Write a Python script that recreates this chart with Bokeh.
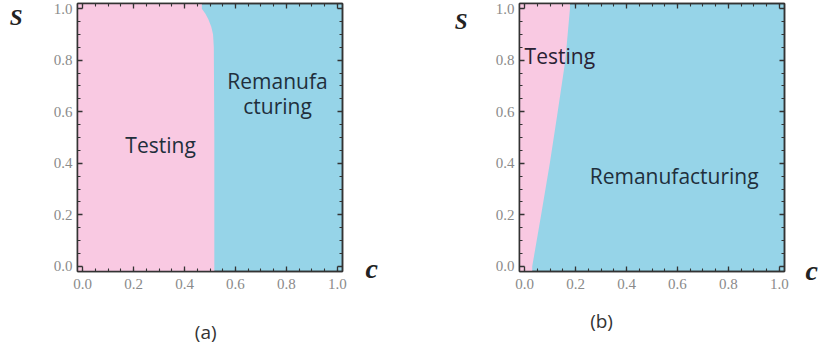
from bokeh.plotting import figure
from bokeh.layouts import row
from bokeh.models import (ColumnDataSource, LinearAxis, Range1d, FixedTicker,
                          SingleIntervalTicker, PrintfTickFormatter,
                          CustomLabelingPolicy)
from bokeh.core.properties import value
from bokeh.embed import file_html
from bokeh.resources import INLINE

# ---------------- data ----------------
# panel (a): boundary between Testing (left) and Remanufacturing (right)
a_s = [0.0, 0.5, 0.85, 0.9, 0.93, 0.96, 0.98, 1.0]
a_c = [0.517, 0.517, 0.515, 0.512, 0.505, 0.493, 0.482, 0.468]
# panel (b)
b_s = [0.0, 0.2, 0.4, 0.6, 0.8, 1.0]
b_c = [0.03, 0.065, 0.099, 0.13, 0.16, 0.178]

tick_step = 0.2
x_label = "c"
y_label = "S"
panel_names = ["(a)", "(b)"]

a_texts = ["Testing", "Remanufa", "cturing"]
a_text_c = [0.306, 0.765, 0.765]
a_text_s = [0.471, 0.721, 0.623]
b_texts = ["Testing", "Remanufacturing"]
b_text_c = [0.0, 0.587]
b_text_s = [0.816, 0.349]

PINK = "#f9c9e2"
BLUE = "#96d4e8"
FRAME = "#333333"
PAD = 0.02
H = 352


def label_axis(text, at, standoff, font, size, style, color):
    ax = LinearAxis(ticker=FixedTicker(ticks=[at], minor_ticks=[]),
                    formatter=PrintfTickFormatter(format=text))
    ax.axis_line_color = None
    ax.major_tick_line_color = None
    ax.minor_tick_line_color = None
    ax.major_tick_in = 0
    ax.major_tick_out = 0
    ax.major_label_standoff = standoff
    ax.major_label_text_font = font
    ax.major_label_text_font_size = size
    ax.major_label_text_font_style = style
    ax.major_label_text_color = color
    return ax


def make_panel(bs, bc, width, bl, br, bt, bb,
               s_at, s_off, c_at, c_off, name, name_at, name_off):
    p = figure(width=width, height=H, output_backend="svg",
               toolbar_location=None,
               x_range=Range1d(-PAD, 1 + PAD), y_range=Range1d(-PAD, 1 + PAD),
               min_border_left=bl, min_border_right=br,
               min_border_top=bt, min_border_bottom=bb,
               background_fill_color=BLUE, border_fill_color="white")
    p.xgrid.visible = False
    p.ygrid.visible = False
    p.outline_line_color = FRAME
    p.outline_line_width = 1.5

    lo, hi = -PAD, 1 + PAD
    xs = [lo, bc[0]] + list(bc) + [bc[-1], lo]
    ys = [lo, lo] + list(bs) + [hi, hi]
    p.patch(xs, ys, fill_color=PINK, line_color=None)

    # extra axes for top/right ticks
    p.add_layout(LinearAxis(), "above")
    p.add_layout(LinearAxis(), "right")
    for ax in p.axis:
        ax.ticker = SingleIntervalTicker(interval=tick_step, num_minor_ticks=4)
        ax.formatter = PrintfTickFormatter(format="%.1f")
        ax.major_tick_in = 5
        ax.major_tick_out = 0
        ax.minor_tick_in = 3
        ax.minor_tick_out = 0
        ax.major_tick_line_color = FRAME
        ax.minor_tick_line_color = FRAME
        ax.major_tick_line_width = 1.3
        ax.minor_tick_line_width = 1.1
        ax.axis_line_color = FRAME
        ax.axis_line_width = 1.5
        ax.major_label_text_font = "Liberation Serif"
        ax.major_label_text_font_size = "15px"
        ax.major_label_text_color = "#8a8a8a"
    hide = CustomLabelingPolicy(
        code="for (const i of indices) indices.unset(i); return indices")
    for ax in (p.above[0], p.right[0]):
        ax.major_label_policy = hide
        ax.major_label_text_font_size = "0px"
        ax.major_label_standoff = 0
    p.below[0].major_label_standoff = 7
    p.left[0].major_label_standoff = 5

    # axis-name labels and panel name, placed through extra axes
    p.add_layout(label_axis(y_label, s_at, s_off, "Liberation Serif", "23px",
                            "bold italic", "#222222"), "left")
    p.add_layout(label_axis(x_label, c_at, c_off, "Liberation Serif", "28px",
                            "bold italic", "#222222"), "right")
    p.add_layout(label_axis(name, name_at, name_off, "Open Sans", "19px",
                            "normal", "#333333"), "below")
    return p


# ---------------- panel (a) ----------------
pa = make_panel(a_s, a_c, 440, 77, 98, 3, 81,
                0.965, 28, -0.01, 23, panel_names[0], 0.483, 27)
src_a = ColumnDataSource(dict(x=a_text_c, y=a_text_s, t=a_texts))
pa.text(x="x", y="y", text="t", source=src_a, text_align="center",
        text_baseline="alphabetic", text_font=value("Open Sans"),
        text_font_size="21px", text_color="#1f2f3c")

# ---------------- panel (b) ----------------
pb = make_panel(b_s, b_c, 382, 79, 38, 3, 81,
                0.95, 25, -0.015, 21, panel_names[1], 0.302, 16)
pb.text(x=[b_text_c[0]], y=[b_text_s[0]], text=[b_texts[0]], text_align="left",
        text_baseline="alphabetic", text_font=value("Open Sans"),
        text_font_size="21px", text_color="#2a2234")
pb.text(x=[b_text_c[1]], y=[b_text_s[1]], text=[b_texts[1]], text_align="center",
        text_baseline="alphabetic", text_font=value("Open Sans"),
        text_font_size="21px", text_color="#1f2f3c")

layout = row(pa, pb)
open("out.html", "w").write(file_html(layout, INLINE))
